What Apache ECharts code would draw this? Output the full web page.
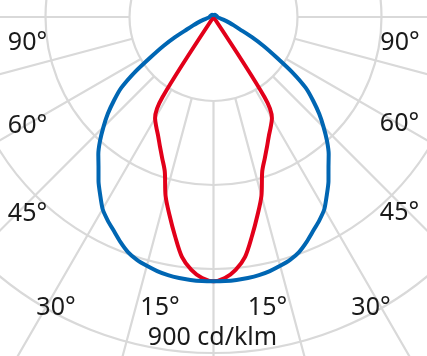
<!DOCTYPE html>
<html>
<head>
<meta charset="utf-8">
<script src="https://cdn.jsdelivr.net/npm/echarts@6/dist/echarts.min.js"></script>
<style>
html,body{margin:0;padding:0;background:#fff;}
#chart{width:427px;height:356px;}
</style>
</head>
<body>
<div id="chart"></div>
<script>
// gamma angles (degrees from nadir), values in cd/klm
const blueAngles = [0,2.5,5,7.5,10,12.5,15,17.5,20,22.5,25,27.5,30,32.5,35,37.5,40,42.5,45,47.5,50,52.5,55,57.5,60,62.5,65,67.5,70,75,80,90,120,150,180];
const blueValues = [708,708,707,705,702,697,690,682,670,652,632,614,594,565,537,506,480,450,417,384,348,311,257,198,155,115,78,59,46,27,16,11,8,7,5];
const redAngles = [0,2.5,5,7.5,10,12.5,15,17.5,20,22.5,25,27.5,30,32.5,35,90,180];
const redValues = [708,700,680,648,595,544,496,434,402,375,351,332,313,254,0,0,0];
const angleLabels = ['90°','90°','60°','60°','45°','45°','30°','15°','15°','30°'];
const unitLabel = '900 cd/klm';
const scaleMax = 1125; // value at outer polar radius

const labelPos = [[27.5,43],[400,43],[27.5,126],[399.5,124],[27.5,214],[399.5,213],[56,308],[160,308],[267.5,308],[371,308]];

function mirrored(angles, values){
  const out = [];
  for (let i = angles.length - 1; i >= 0; i--) {
    out.push([values[i], angles[i] === 0 ? 0 : 360 - angles[i]]);
  }
  for (let i = 1; i < angles.length; i++) {
    out.push([values[i], angles[i]]);
  }
  return out;
}

const center = [213.5, 17];
const gridColor = '#d9d9d9';
const font = '"Noto Sans", "Open Sans", sans-serif';

const chart = echarts.init(document.getElementById('chart'), null, {renderer:'canvas'});
const graphics = angleLabels.map((t, i) => ({
  type:'text', x: labelPos[i][0], y: labelPos[i][1], z: 10,
  style:{text:t, fill:'#1a1a1a', font:'25px ' + font, textAlign:'center', textVerticalAlign:'middle'}
}));
graphics.push({type:'text', x:212.5, y:338, z:10,
  style:{text:unitLabel, fill:'#1a1a1a', font:'25px ' + font, textAlign:'center', textVerticalAlign:'middle'}});

chart.setOption({
  backgroundColor:'#ffffff',
  animation:false,
  polar:[
    {center:center, radius:[84,420]},
    {center:center, radius:420}
  ],
  angleAxis:[
    {polarIndex:0, type:'value', min:0, max:360, interval:15, startAngle:270, clockwise:true,
     axisLine:{show:false}, axisTick:{show:false}, axisLabel:{show:false},
     splitLine:{show:true, lineStyle:{color:gridColor, width:2.2}}},
    {polarIndex:1, type:'value', min:0, max:360, startAngle:270, clockwise:true,
     axisLine:{show:false}, axisTick:{show:false}, axisLabel:{show:false}, splitLine:{show:false}}
  ],
  radiusAxis:[
    {polarIndex:0, type:'value', min:0, max:4, interval:1,
     axisLine:{show:false}, axisTick:{show:false}, axisLabel:{show:false},
     splitLine:{show:true, lineStyle:{color:gridColor, width:2.2}}},
    {polarIndex:1, type:'value', min:0, max:scaleMax,
     axisLine:{show:false}, axisTick:{show:false}, axisLabel:{show:false}, splitLine:{show:false}}
  ],
  series:[
    {type:'line', coordinateSystem:'polar', polarIndex:1, data:mirrored(redAngles, redValues),
     symbol:'none', smooth:0.3, lineStyle:{color:'#e2001a', width:4, join:'round', cap:'round'}, z:3},
    {type:'line', coordinateSystem:'polar', polarIndex:1, data:mirrored(blueAngles, blueValues),
     symbol:'none', smooth:0.2, lineStyle:{color:'#0066b3', width:4, join:'round', cap:'round'}, z:4}
  ],
  graphic:graphics
});
</script>
</body>
</html>
